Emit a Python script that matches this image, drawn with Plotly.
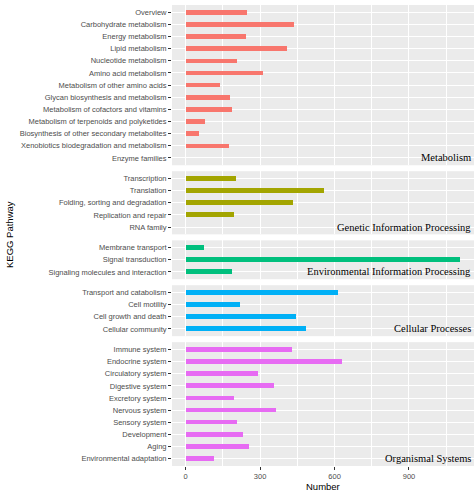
import plotly.graph_objects as go
from plotly.subplots import make_subplots

# ---- data ----
metabolism_cats = ["Overview", "Carbohydrate metabolism", "Energy metabolism", "Lipid metabolism",
                   "Nucleotide metabolism", "Amino acid metabolism", "Metabolism of other amino acids",
                   "Glycan biosynthesis and metabolism", "Metabolism of cofactors and vitamins",
                   "Metabolism of terpenoids and polyketides", "Biosynthesis of other secondary metabolites",
                   "Xenobiotics biodegradation and metabolism", "Enzyme families"]
metabolism_vals = [247, 436, 244, 407, 208, 311, 137, 179, 187, 79, 52, 175, 0]

genetic_cats = ["Transcription", "Translation", "Folding, sorting and degradation",
                "Replication and repair", "RNA family"]
genetic_vals = [203, 557, 433, 196, 0]

environmental_cats = ["Membrane transport", "Signal transduction", "Signaling molecules and interaction"]
environmental_vals = [75, 1107, 188]

cellular_cats = ["Transport and catabolism", "Cell motility", "Cell growth and death", "Cellular community"]
cellular_vals = [613, 220, 444, 485]

organismal_cats = ["Immune system", "Endocrine system", "Circulatory system", "Digestive system",
                   "Excretory system", "Nervous system", "Sensory system", "Development", "Aging",
                   "Environmental adaptation"]
organismal_vals = [427, 632, 291, 356, 195, 363, 208, 231, 257, 115]

group_names = ["Metabolism", "Genetic Information Processing", "Environmental Information Processing",
               "Cellular Processes", "Organismal Systems"]
group_colors = ["#F8766D", "#A3A500", "#00BF7D", "#00B0F6", "#E76BF3"]
x_tick_vals = [0, 300, 600, 900]

groups = [(metabolism_cats, metabolism_vals), (genetic_cats, genetic_vals),
          (environmental_cats, environmental_vals), (cellular_cats, cellular_vals),
          (organismal_cats, organismal_vals)]

W, H = 474, 494
ML, MR, MT, MB = 172, 0, 5, 28
plot_h = H - MT - MB

heights = [len(c) + 0.2 for c, _ in groups]
fig = make_subplots(rows=5, cols=1, shared_xaxes=True, row_heights=heights,
                    vertical_spacing=6 / plot_h)

label_font = dict(family="Liberation Sans, Arial, sans-serif", size=7.5, color="#4D4D4D")

for i, ((cats, vals), name, col) in enumerate(zip(groups, group_names, group_colors)):
    r = i + 1
    fig.add_trace(go.Bar(x=vals, y=cats, orientation="h", marker_color=col,
                         marker_line_width=0, width=0.38, showlegend=False),
                  row=r, col=1)
    n = len(cats)
    fig.update_yaxes(type="category", categoryorder="array", categoryarray=cats,
                     range=[n - 0.4, -0.6], showgrid=True, gridcolor="white", gridwidth=1,
                     ticks="outside", ticklen=3, tickcolor="#333333", tickwidth=1,
                     tickfont=label_font, zeroline=False, showline=False, row=r, col=1)
    yref = "y" if r == 1 else f"y{r}"
    fig.add_annotation(text=name, x=1, xref="paper", xanchor="right", xshift=-1,
                       y=cats[-1], yref=yref, yanchor="middle", showarrow=False,
                       font=dict(family="Liberation Serif, Times New Roman, serif", size=10.5,
                                 color="black"))

fig.update_xaxes(range=[-55, 1162], tickvals=x_tick_vals, showgrid=True, gridcolor="white",
                 gridwidth=1.1, zeroline=False, showline=False,
                 minor=dict(tickvals=[150, 450, 750, 1050], showgrid=True, gridcolor="white",
                            gridwidth=0.5, ticks=""))
fig.update_xaxes(ticks="outside", ticklen=3, tickcolor="#333333", tickfont=label_font,
                 showticklabels=True, row=5, col=1)

fig.add_annotation(text="Number", x=0.5, xref="paper", y=0, yref="paper", yanchor="top",
                   yshift=-13, showarrow=False,
                   font=dict(family="Liberation Sans, Arial, sans-serif", size=9.5, color="black"))
fig.add_annotation(text="KEGG Pathway", textangle=-90, x=(9 - ML) / (W - ML - MR), xref="paper",
                   xanchor="center", y=(H - MB - 235) / plot_h, yref="paper", yanchor="middle",
                   showarrow=False,
                   font=dict(family="Liberation Sans, Arial, sans-serif", size=9.5, color="black"))

fig.update_layout(width=W, height=H, margin=dict(l=ML, r=MR, t=MT, b=MB),
                  plot_bgcolor="#EBEBEB", paper_bgcolor="white", bargap=0)

fig.write_html("out.html", config={"displayModeBar": False},
               post_script="document.body.style.margin='0';document.body.style.overflow='hidden';")
